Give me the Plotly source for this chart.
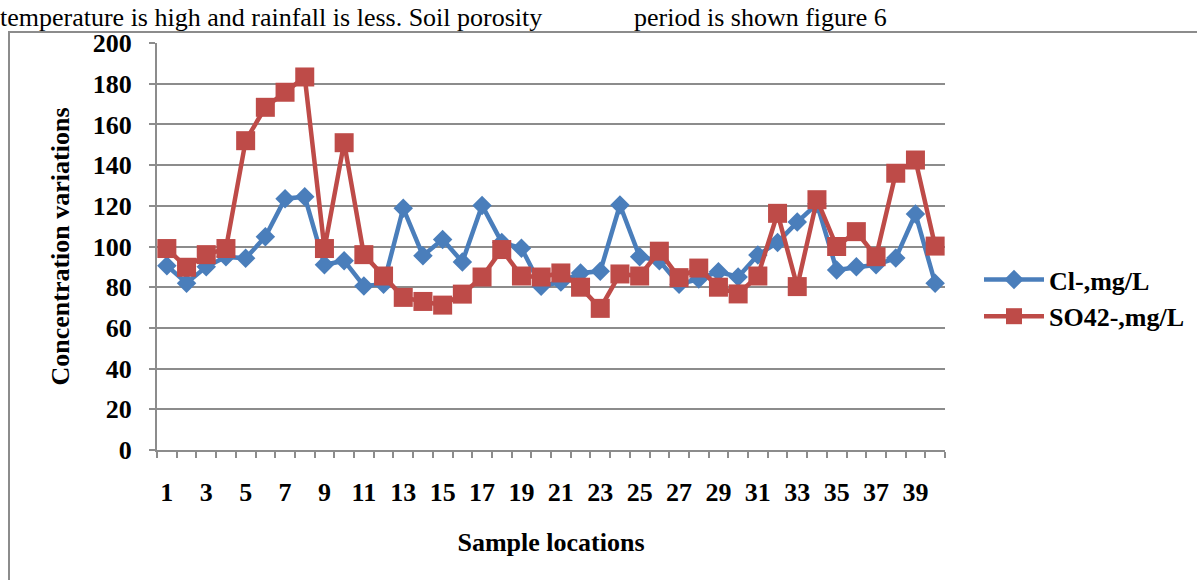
import plotly.graph_objects as go

locations = list(range(1, 41))
cl_values = [90.6, 82, 90, 95, 94.2, 104.8, 123.5, 124.5, 91, 93, 80.6, 81.5, 118.8, 95.5, 103.5, 92.4, 120.2, 102, 99.2, 80.5,
             82.5, 87, 87.8, 120.4, 95, 93, 81.5, 84, 87.6, 85, 95.8, 102, 112, 121, 88.5, 90, 91, 94.3, 116, 82]
so4_values = [99, 89.8, 96, 99, 152, 168.4, 175.8, 183.3, 99, 151, 96, 85.5, 75, 73, 71.2, 76.6, 85, 98.5, 85.5, 85,
              87, 80, 69.6, 86.5, 85.5, 97.7, 84.7, 89.4, 80, 76.7, 85.5, 116.3, 80.3, 123, 100, 107.3, 95, 136, 142.5, 100.2]
x_tick_vals = list(range(1, 41, 2))
x_tick_text = [str(v) for v in x_tick_vals]

W, H = 1197, 580
L, R, T, B = 157, 252, 43, 130
PW, PH = W - L - R, H - T - B

def px(xp):
    return (xp - L) / PW

def py(yp):
    return 1 - (yp - T) / PH

FONT = "Liberation Serif, Times New Roman, serif"
BLUE = "#4A7EBB"
RED = "#BE4B48"
GRID = "#8C8C8C"

fig = go.Figure()
fig.add_trace(go.Scatter(
    x=locations, y=cl_values, name="Cl-,mg/L", mode="lines+markers",
    line=dict(color=BLUE, width=4.5),
    marker=dict(symbol="diamond", size=15, color=BLUE),
))
fig.add_trace(go.Scatter(
    x=locations, y=so4_values, name="SO42-,mg/L", mode="lines+markers",
    line=dict(color=RED, width=4.5),
    marker=dict(symbol="square", size=19, color=RED),
))

fig.update_layout(
    width=W, height=H,
    margin=dict(l=L, r=R, t=T, b=B, pad=0, autoexpand=False),
    paper_bgcolor="white", plot_bgcolor="white",
    font=dict(family=FONT, size=26, color="black"),
    showlegend=True,
    legend=dict(
        x=px(979), y=py(256), xanchor="left", yanchor="top",
        font=dict(family=FONT, size=26, color="black", weight="bold"),
        itemwidth=60, tracegroupgap=0, bgcolor="rgba(0,0,0,0)",
    ),
    xaxis=dict(
        range=[0.5, 40.5], tickmode="array", tickvals=x_tick_vals, ticktext=x_tick_text,
        ticks="", showgrid=False, zeroline=False, automargin=False,
        showline=True, linecolor=GRID, linewidth=2,
        tickfont=dict(family=FONT, size=26, color="black", weight="bold"),
        ticklabelstandoff=18,
        minor=dict(tickmode="linear", tick0=0.5, dtick=1, ticks="outside", ticklen=6,
                   tickcolor=GRID, tickwidth=2, showgrid=False),
        title=dict(text="<b>Sample locations</b>", standoff=27,
                   font=dict(family=FONT, size=26, color="black")),
    ),
    yaxis=dict(
        range=[0, 200], tickmode="linear", tick0=0, dtick=20,
        ticks="outside", ticklen=6, tickcolor=GRID, tickwidth=2,
        showgrid=True, gridcolor=GRID, gridwidth=2, zeroline=False, automargin=False,
        showline=True, linecolor=GRID, linewidth=2,
        tickfont=dict(family=FONT, size=26, color="black", weight="bold"),
        ticklabelstandoff=12,
        title=dict(text="<b>Concentration variations</b>", standoff=16,
                   font=dict(family=FONT, size=26, color="black")),
    ),
)

# outer chart frame
fig.add_shape(type="rect", xref="paper", yref="paper",
              x0=px(9), x1=px(1205), y0=py(590), y1=py(32),
              line=dict(color=GRID, width=2), fillcolor="rgba(0,0,0,0)", layer="below")

# text from the page above the chart
fig.add_annotation(text="temperature is high and rainfall is less. Soil porosity",
                   xref="paper", yref="paper", x=px(-2), y=py(1), xanchor="left", yanchor="top",
                   showarrow=False, font=dict(family=FONT, size=26, color="black"))
fig.add_annotation(text="period is shown figure 6",
                   xref="paper", yref="paper", x=px(632), y=py(1), xanchor="left", yanchor="top",
                   showarrow=False, font=dict(family=FONT, size=26, color="black"))

fig.write_html("out.html")
